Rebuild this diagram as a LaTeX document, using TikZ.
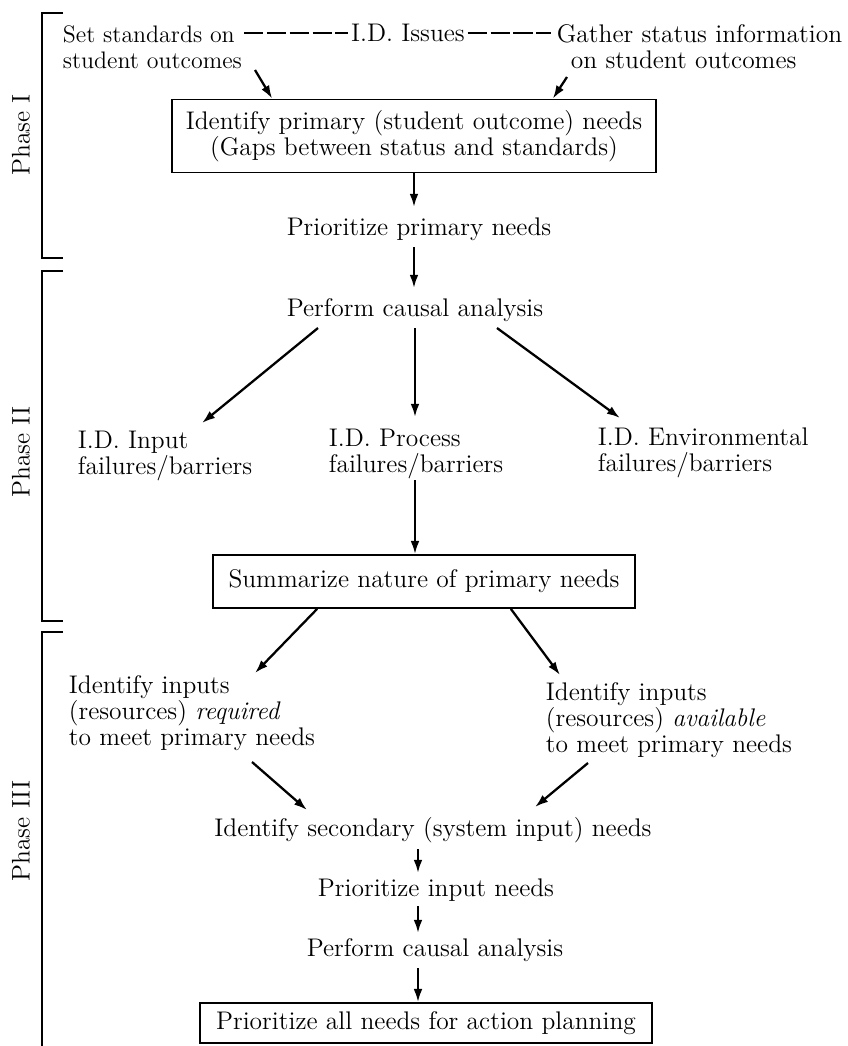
\documentclass[tikz,border=0pt]{standalone}
\usepackage{tikz}
\usetikzlibrary{arrows.meta, positioning, calc}

\begin{document}
\begin{tikzpicture}[x=0.02cm, y=-0.02cm, >={Latex[length=7.5pt,width=5pt]},
    font=\fontsize{14.5}{14.8}\selectfont, line width=1.3pt,
    lbl/.style={inner sep=1pt, align=left},
    boxed/.style={draw, line width=1pt, inner sep=0pt, align=center},
    phase/.style={rotate=90, inner sep=0pt},
    bracket/.style={line width=1pt},
    issue/.style={dash pattern=on 11pt off 2pt, line width=1.3pt}]
  \useasboundingbox (0,0) rectangle (848,1046);

  % Phasen links
  \draw[bracket] (63,13) -- (42,13) -- (42,258) -- (63,258);
  \draw[bracket] (63,271) -- (42,271) -- (42,621) -- (63,621);
  \draw[bracket] (63,632) -- (42,632) -- (42,1046);
  \node[phase] (ph1) at (21,135) {Phase I};
  \node[phase] (ph2) at (21,452) {Phase II};
  \node[phase] (ph3) at (21,831) {Phase III};

  % Phase I
  \node[lbl, anchor=west, font=\fontsize{13.6}{14.8}\selectfont] (setstd) at (60,47) {Set standards on\\student outcomes};
  \node[lbl] (issues) at (408,33) {I.D. Issues};
  \node[lbl, anchor=west] (gather) at (554,47) {Gather status information\\\hspace*{8pt}on student outcomes};
  \coordinate (dashL) at (244,33);
  \coordinate (dashR) at (551,33);
  \draw[issue] (dashL) -- (issues.west);
  \draw[issue] (issues.east) -- (dashR);
  \node[boxed, minimum width=9.68cm, minimum height=1.46cm] (primary) at (414,136)
    {Identify primary (student outcome) needs\\(Gaps between status and standards)};
  \node[lbl] (prio1) at (419,229) {Prioritize primary needs};
  \draw[->] ($(setstd.west)+(195,23)$) -- ($(primary.north west)+(101,0)$);
  \draw[->] ($(gather.west)+(13,30)$) -- ($(primary.north east)+(-104,0)$);
  \draw[->] (primary.south) -- ($(prio1.center -| primary.south)+(0,-22)$);

  % Phase II
  \node[lbl] (cause) at (415,310) {Perform causal analysis};
  \node[lbl, anchor=west] (input) at (75,456) {I.D. Input\\failures/barriers};
  \node[lbl, anchor=west] (process) at (326,454) {I.D. Process\\failures/barriers};
  \node[lbl, anchor=west] (environ) at (595,453) {I.D. Environmental\\failures/barriers};
  \node[boxed, minimum width=8.44cm, minimum height=1.06cm] (summary) at (424,581.5)
    {Summarize nature of primary needs};
  \draw[->] ($(prio1.center -| primary.south)+(0,18)$) -- ($(cause.center -| primary.south)+(0,-22)$);
  \draw[->] ($(cause.center)+(-97,18)$) -- ($(input.west)+(127,-33)$);
  \draw[->] ($(cause.center)+(0,18)$) -- ($(process.west -| cause.center)+(0,-37)$);
  \draw[->] ($(cause.center)+(82,18)$) -- ($(environ.west)+(25,-35)$);
  \draw[->] ($(process.west -| cause.center)+(0,26)$) -- (summary.north -| cause.center);

  % Phase III
  \node[lbl, anchor=west] (required) at (66,713) {Identify inputs\\(resources) \textit{required}\\to meet primary needs};
  \node[lbl, anchor=west] (available) at (543,720) {Identify inputs\\(resources) \textit{available}\\to meet primary needs};
  \node[lbl] (secondary) at (433,830) {Identify secondary (system input) needs};
  \node[lbl] (prio2) at (436,890) {Prioritize input needs};
  \node[lbl] (cause2) at (435,950) {Perform causal analysis};
  \node[boxed, minimum width=9.04cm, minimum height=0.8cm] (planning) at (426,1023)
    {Prioritize all needs for action planning};
  \coordinate (axis) at (418,0);
  \draw[->] ($(summary.south west)+(105,0)$) -- ($(required.west)+(189,-40)$);
  \draw[->] ($(summary.south east)+(-125,0)$) -- ($(available.west)+(17,-45)$);
  \draw[->] ($(required.west)+(186,49)$) -- ($(secondary.center)+(-126,-20)$);
  \draw[->] ($(available.west)+(45,43)$) -- ($(secondary.center)+(102,-23)$);
  \draw[->] ($(secondary.center -| axis)+(0,19)$) -- ($(prio2.center -| axis)+(0,-17)$);
  \draw[->] ($(prio2.center -| axis)+(0,16)$) -- ($(cause2.center -| axis)+(0,-17)$);
  \draw[->] ($(cause2.center -| axis)+(0,18)$) -- (planning.north -| axis);
\end{tikzpicture}
\end{document}
